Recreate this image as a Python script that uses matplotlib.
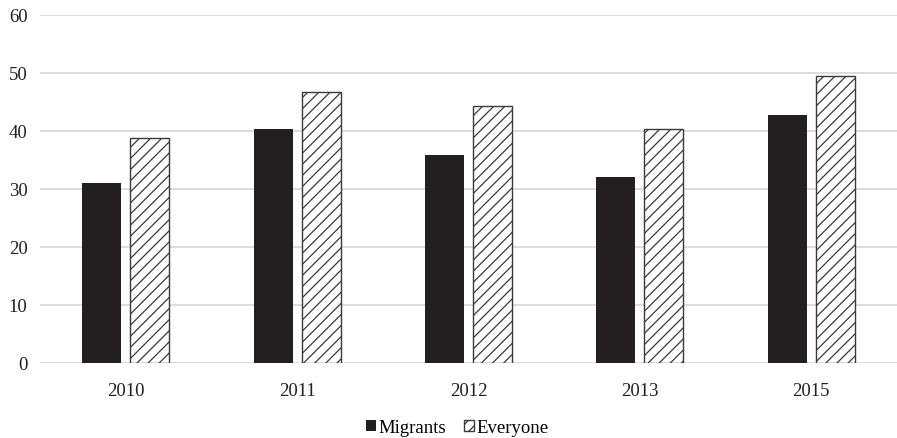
import matplotlib
matplotlib.use('Agg')
import matplotlib.pyplot as plt
import numpy as np

plt.rc('font', family='Liberation Serif', size=13.5)
plt.rc('hatch', linewidth=0.9, color='#231f20')

# survey years and shares per group
years = ['2010', '2011', '2012', '2013', '2015']
migrants = [31.0, 40.3, 35.8, 32.0, 42.7]
everyone = [38.7, 46.6, 44.2, 40.3, 49.5]

x = np.arange(len(years))
width = 0.228
offset = 0.14

fig = plt.figure(figsize=(8.97, 4.39), dpi=100)
ax = fig.add_axes([0.0446, 0.1715, 0.9554, 0.7927])

ax.bar(x - offset, migrants, width, color='#231f20', label='Migrants', zorder=3)
ax.bar(x + offset, everyone, width, color='white', edgecolor='#3a3a3a',
       linewidth=1.0, hatch='///', label='Everyone', zorder=3)

ax.set_xlim(-0.5, len(years) - 0.5)
ax.set_ylim(0, 60)
ax.set_yticks(np.arange(0, 61, 10))
ax.set_xticks(x)
ax.set_xticklabels(years)
ax.yaxis.grid(True, color='#d9d9d9', linewidth=1.3, zorder=0)
ax.set_axisbelow(True)
for s in ax.spines.values():
    s.set_visible(False)
ax.tick_params(axis='both', length=0, labelsize=13.5, colors='#231f20')
ax.tick_params(axis='y', pad=9)
ax.tick_params(axis='x', pad=14)

fig.legend(loc='lower center', bbox_to_anchor=(0.51, -0.034), ncol=2, frameon=False,
           handlelength=0.53, handleheight=0.53, handletextpad=0.15,
           columnspacing=0.95, fontsize=13.5)

plt.savefig('out.png', dpi=100)
